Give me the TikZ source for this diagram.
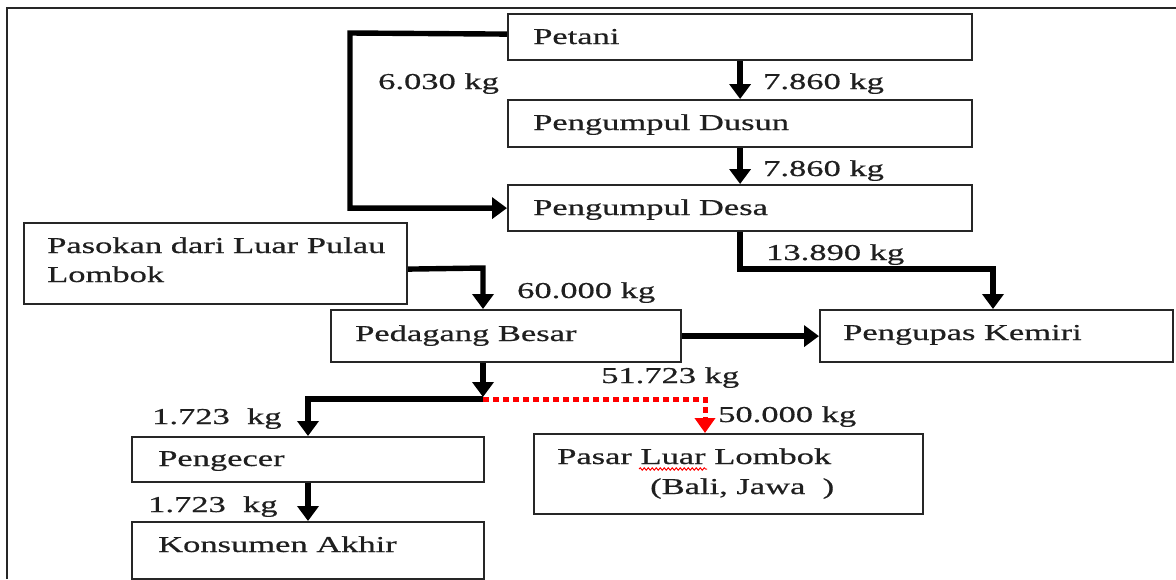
\documentclass[tikz,border=0pt]{standalone}
\usepackage{fontspec}
\setmainfont[FakeStretch=1.52,FakeBold=0.6]{Liberation Serif}
\usetikzlibrary{arrows.meta,decorations.pathmorphing}
\begin{document}
\begin{tikzpicture}[x=1pt,y=-1pt,
  box/.style={draw=black!85, line width=2.2pt, inner sep=0pt, anchor=north west, rectangle},
  txt/.style={anchor=base west, inner sep=0pt, font=\fontsize{22.7}{29}\selectfont, text=black!88},
  conn/.style={line width=5.4pt, draw=black},
  tip/.style={-{Triangle[width=21pt,length=15pt]}},
  redconn/.style={line width=5pt, draw=red, dash pattern=on 6pt off 4pt}
]
\useasboundingbox (0,0) rectangle (1176,579);
% outer frame (left and top edges visible)
\draw[line width=2.2pt, black!85] (7,579) -- (7,8) -- (1176,8);

% boxes
\node[box, minimum width=464pt, minimum height=46pt] (petani) at (507,13) {};
\node[box, minimum width=464pt, minimum height=47pt] (dusun) at (507,99) {};
\node[box, minimum width=464pt, minimum height=46pt] (desa) at (507,184) {};
\node[box, minimum width=383pt, minimum height=81pt] (pasokan) at (23,222) {};
\node[box, minimum width=350pt, minimum height=52pt] (pedagang) at (330,309) {};
\node[box, minimum width=353pt, minimum height=52pt] (pengupas) at (819,309) {};
\node[box, minimum width=352pt, minimum height=45pt] (pengecer) at (131,436) {};
\node[box, minimum width=352pt, minimum height=57pt] (konsumen) at (131,521) {};
\node[box, minimum width=389pt, minimum height=80pt] (pasar) at (533,433) {};

% box texts
\node[txt] (petani-t) at (533,44) {Petani};
\node[txt] (dusun-t) at (533,130) {Pengumpul Dusun};
\node[txt] (desa-t) at (533,215) {Pengumpul Desa};
\node[txt] (pasokan-t1) at (47,253) {Pasokan dari Luar Pulau};
\node[txt] (pasokan-t2) at (47,282) {Lombok};
\node[txt] (pedagang-t) at (355,341) {Pedagang Besar};
\node[txt] (pengupas-t) at (843,340) {Pengupas Kemiri};
\node[txt] (pengecer-t) at (158,466) {Pengecer};
\node[txt] (konsumen-t) at (158,552) {Konsumen Akhir};
\node[txt] (pasar-t1) at (557,464) {Pasar Luar Lombok};
\node[txt] (pasar-t2) at (650,494) {(Bali, Jawa\ \ )};
\draw[red, line width=1pt, decorate, decoration={snake, amplitude=1.2pt, segment length=4pt}] (639,469) -- (707,469);

% bend coordinates
\coordinate (lbend) at (350,33);
\coordinate (dk) at (993,269);
\coordinate (pb) at (483,268);
\coordinate (split) at (483,399);
\coordinate (lc) at (308,399);
\coordinate (rc) at (705,399);

% connectors
\draw[conn, tip] ([yshift=3pt]petani.west) -- (lbend) |- (desa.west);
\draw[conn, tip] (petani.south) -- (dusun.north);
\draw[conn, tip] (dusun.south) -- (desa.north);
\draw[conn, tip] (desa.south) |- (dk) -- (dk |- pengupas.north);
\draw[conn, tip] ([yshift=-5.5pt]pasokan.east) -- (pb) -- (pb |- pedagang.north);
\draw[conn, tip] (pedagang.east) -- (pengupas.west);
\draw[conn, tip] (split |- pedagang.south) -- ([yshift=2pt]split);
\draw[conn, tip] (split) -- (lc) -- (lc |- pengecer.north);
\draw[conn, tip] (lc |- pengecer.south) -- (lc |- konsumen.north);
\draw[redconn, -{Triangle[width=20pt,length=15pt]}, red] (split) -- (rc) -- (rc |- pasar.north);

% flow labels
\node[txt] (l6030) at (378,89) {6.030 kg};
\node[txt] (l7860a) at (763,89) {7.860 kg};
\node[txt] (l7860b) at (763,176) {7.860 kg};
\node[txt] (l13890) at (766,260) {13.890 kg};
\node[txt] (l60000) at (517,298) {60.000 kg};
\node[txt] (l51723) at (601,383) {51.723 kg};
\node[txt] (l50000) at (718,422) {50.000 kg};
\node[txt] (l1723a) at (152,424) {1.723\ \ kg};
\node[txt] (l1723b) at (148,512) {1.723\ \ kg};
\end{tikzpicture}
\end{document}
